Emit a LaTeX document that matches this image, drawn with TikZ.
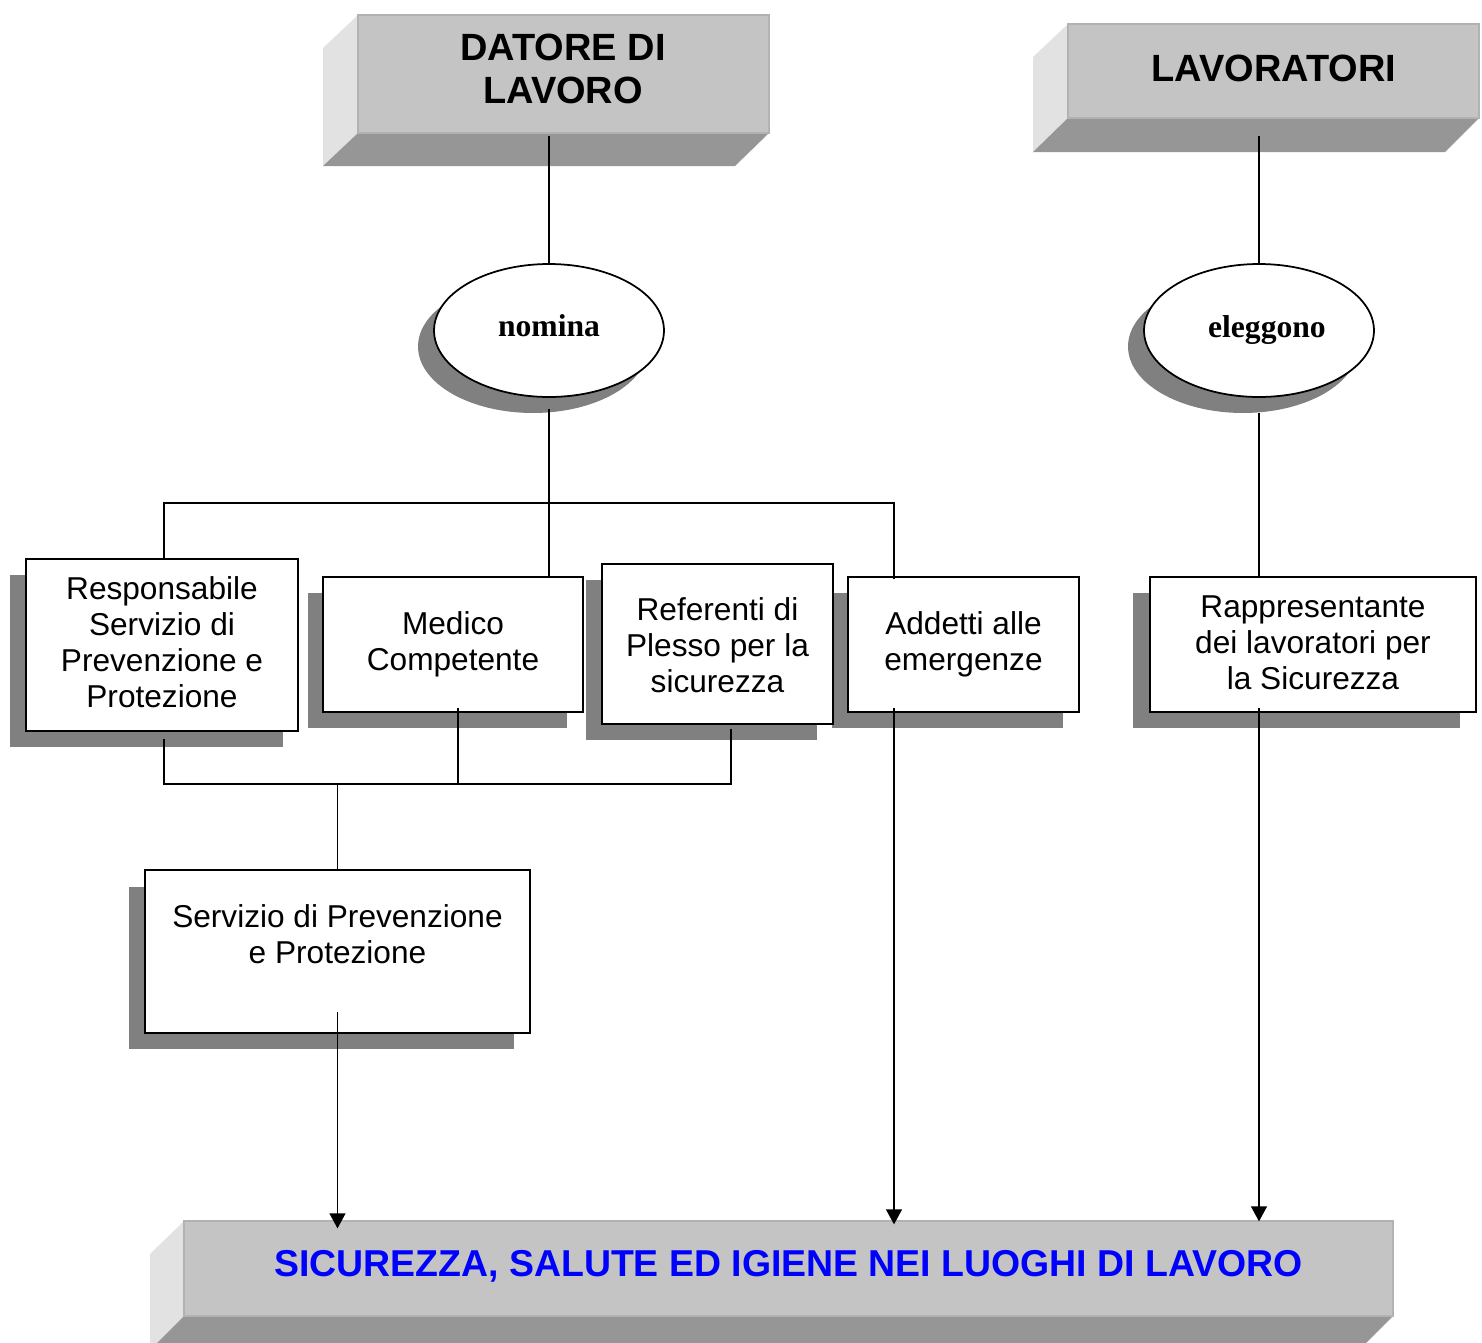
\documentclass[tikz,border=0pt]{standalone}
\usepackage{fontspec}
\setmainfont{Liberation Sans}
\newfontfamily\serifb{Liberation Serif}
\usetikzlibrary{fit,arrows.meta,calc,shapes.geometric}
\definecolor{frontc}{RGB}{196,196,196}
\definecolor{frontedge}{RGB}{178,178,178}
\definecolor{leftc}{RGB}{226,226,226}
\definecolor{bottomc}{RGB}{150,150,150}
\definecolor{shgray}{RGB}{128,128,128}
\definecolor{titleblue}{RGB}{0,0,255}
\begin{document}
\begin{tikzpicture}[x=0.02cm,y=-0.02cm,
  front/.style={fill=frontc, draw=frontedge, line width=0.7pt, inner sep=0pt},
  headtext/.style={align=center, inner sep=0pt, font=\bfseries\fontsize{21.6}{24.4}\selectfont},
  box/.style={draw=black, line width=1.1pt, fill=white, inner sep=0pt},
  boxtext/.style={align=center, inner sep=0pt, font=\fontsize{18}{20.5}\selectfont},
  ell/.style={ellipse, draw=black, line width=1pt, fill=white, inner sep=0pt,
    minimum width=4.6cm, minimum height=2.66cm, font=\serifb\bfseries\fontsize{18}{20}\selectfont},
  conn/.style={line width=0.8pt, draw=black},
  arr/.style={conn, -{Triangle[length=8.5pt,width=9pt]}}]
\useasboundingbox (0,0) rectangle (1482,1343);
\clip (0,0) rectangle (1482,1343);

% ---------- DATORE DI LAVORO (bevel) ----------
\fill[leftc] (323,48) -- (358,15) -- (358,133) -- (323,166) -- cycle;
\fill[bottomc] (358,133) -- (769,133) -- (735,166) -- (323,166) -- cycle;
\node[front, fit={(358,15)(769,133)}] (datore) {};
\node[headtext] (datoretxt) at (563,69) {DATORE DI\\LAVORO};

% ---------- LAVORATORI (bevel) ----------
\fill[leftc] (1033,57) -- (1068,24) -- (1068,118) -- (1033,152) -- cycle;
\fill[bottomc] (1068,118) -- (1479,118) -- (1445,152) -- (1033,152) -- cycle;
\node[front, fit={(1068,24)(1479,118)}] (lavoratori) {};
\node[headtext] (lavoratoritxt) at (1274,68) {LAVORATORI};

% ---------- SICUREZZA (bevel) ----------
\fill[leftc] (150,1254) -- (184,1221) -- (184,1316) -- (150,1350) -- cycle;
\fill[bottomc] (184,1316) -- (1393,1316) -- (1359,1350) -- (150,1350) -- cycle;
\node[front, fit={(184,1221)(1393,1316)}] (sicur) {};
\node[headtext, text=titleblue, font=\bfseries\fontsize{21.3}{24.4}\selectfont] (sicurtxt) at (788.5,1266) {SICUREZZA, SALUTE ED IGIENE NEI LUOGHI DI LAVORO};

% ---------- ellipses ----------
\fill[shgray] (533,346.5) ellipse [x radius=2.3cm, y radius=1.33cm];
\node[ell, text depth=5.6pt] (nomina) at (549,330.5) {nomina};
\fill[shgray] (1243,346.5) ellipse [x radius=2.3cm, y radius=1.33cm];
\node[ell] (eleggono) at (1259,330.5) {\hspace{9pt}eleggono};

% ---------- shadows of boxes ----------
\fill[shgray] (10,575) rectangle (283,747);
\fill[shgray] (308,593) rectangle (567,728);
\fill[shgray] (586,580) rectangle (817,740);
\fill[shgray] (832,593) rectangle (1063,728);
\fill[shgray] (1133,593) rectangle (1460,728);
\fill[shgray] (129,887) rectangle (514,1049);

% ---------- boxes ----------
\node[box, fit={(26,559)(298,731)}] (rspp) {};
\node[box, fit={(323,577)(583,712)}] (medico) {};
\node[box, fit={(602,564)(833,724)}] (referenti) {};
\node[box, fit={(848,577)(1079,712)}] (addetti) {};
\node[box, fit={(1150,577)(1476,712)}] (rls) {};
\node[box, fit={(145,870)(530,1033)}] (spp) {};

\node[boxtext] (rsppt) at ($(rspp.center)+(0,-3)$) {Responsabile\\Servizio di\\Prevenzione e\\Protezione};
\node[boxtext] (medicot) at (medico.center) {Medico\\Competente};
\node[boxtext] (referentit) at ($(referenti.center)+(0,1)$) {Referenti di\\Plesso per la\\sicurezza};
\node[boxtext] (addettit) at (addetti.center) {Addetti alle\\emergenze};
\node[boxtext] (rlst) at ($(rls.center)+(0,-2)$) {Rappresentante\\dei lavoratori per\\la Sicurezza};
\node[boxtext] (sppt) at (337.5,934) {Servizio di Prevenzione\\e Protezione};

% ---------- connector coordinates ----------
\coordinate (busL) at (164,503);
\coordinate (busR) at (894,503);
\coordinate (bus2L) at (164,784);
\coordinate (bus2R) at (731,784);
\coordinate (rsppout) at (164,739);
\coordinate (medout) at (458,708);
\coordinate (refout) at (731,729);
\coordinate (addout) at (894,708);
\coordinate (rlsout) at (1259,708);
\coordinate (sppout) at (337.5,1012);
\coordinate (sppin) at (337.5,784);

% ---------- connectors ----------
\draw[conn] ($(datore.south -| nomina.north)+(0,2)$) -- (nomina.north);
\draw[conn] ($(lavoratori.south -| eleggono.north)+(0,17)$) -- (eleggono.north);
\draw[conn] ($(nomina.south)+(0,11)$) -- ($(nomina.south |- medico.north)+(0,1)$);
\draw[conn] ($(eleggono.south)+(0,15)$) -- ($(eleggono.south |- rls.north)+(0,1)$);
\draw[conn] (busL |- rspp.north) -- (busL) -- (busR) -- ($(busR |- addetti.north)+(0,3)$);
\draw[conn] (rsppout) -- (bus2L) -- (bus2R) -- (refout);
\draw[conn] (medout) -- (medout |- bus2L);
\draw[conn] (sppin) -- (sppin |- spp.north);
\draw[arr] (sppout) -- ($(sppout |- sicur.north)+(0,8)$);
\draw[arr] (addout) -- ($(addout |- sicur.north)+(0,4)$);
\draw[arr] (rlsout) -- ($(rlsout |- sicur.north)+(0,1)$);
\end{tikzpicture}
\end{document}
